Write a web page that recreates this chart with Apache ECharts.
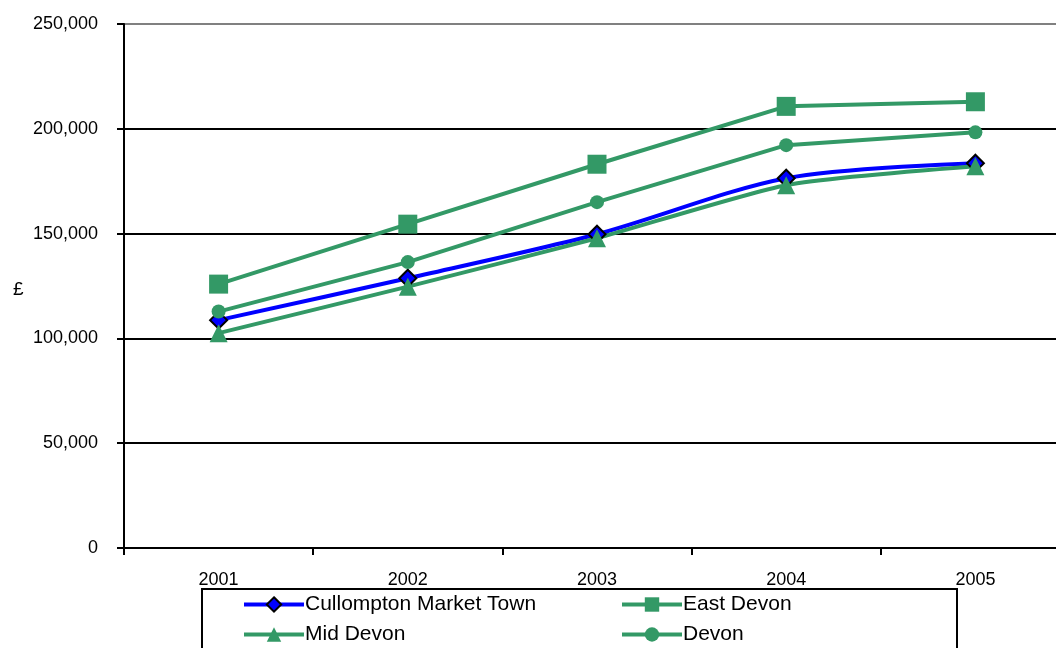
<!DOCTYPE html>
<html>
<head>
<meta charset="utf-8">
<script src="https://cdn.jsdelivr.net/npm/echarts@6/dist/echarts.min.js"></script>
<style>html,body{margin:0;padding:0;background:#fff;overflow:hidden;width:1056px;height:648px;}#c{width:1090px;height:648px;}</style>
</head>
<body>
<div id="c"></div>
<script>
const years = ['2001', '2002', '2003', '2004', '2005'];
const cullompton = [108700, 128700, 149700, 176400, 183600];
const eastDevon = [125900, 154500, 183100, 210700, 212900];
const midDevon = [102500, 124700, 147800, 173100, 182100];
const devon = [112800, 136400, 165000, 192200, 198300];
const yTicks = [0, 50000, 100000, 150000, 200000, 250000];

const GREEN = '#339966';
const FONT = 'Liberation Sans, Arial, sans-serif';

const legendCommon = {
  orient: 'vertical', top: 594, height: 60, padding: 0, itemWidth: 60, itemHeight: 18, itemGap: 9,
  textStyle: {color: '#000', fontSize: 21, fontFamily: FONT, padding: [0, 0, 0, -4]},
  lineStyle: {width: 4}
};

const chart = echarts.init(document.getElementById('c'), null, {renderer: 'canvas'});
chart.setOption({
  animation: false,
  backgroundColor: '#ffffff',
  grid: {left: 124, top: 24, width: 946, height: 524, show: true, borderColor: '#808080', borderWidth: 1, backgroundColor: 'transparent'},
  xAxis: {
    type: 'category', data: years, boundaryGap: true,
    axisLine: {lineStyle: {color: '#000', width: 2}},
    axisTick: {show: true, length: 7, alignWithLabel: false, lineStyle: {color: '#000', width: 2}},
    axisLabel: {color: '#000', fontSize: 18, fontFamily: FONT, margin: 23}
  },
  yAxis: {
    type: 'value', min: yTicks[0], max: yTicks[yTicks.length - 1], interval: 50000,
    axisLine: {show: true, lineStyle: {color: '#000', width: 2}},
    axisTick: {show: true, length: 7, lineStyle: {color: '#000', width: 2}},
    axisLabel: {color: '#000', fontSize: 18, fontFamily: FONT, margin: 26,
      formatter: v => v.toString().replace(/\B(?=(\d{3})+(?!\d))/g, ',')},
    splitLine: {show: true, lineStyle: {color: ['#000','#000','#000','#000','#000','#808080'], width: 2}}
  },
  legend: [
    Object.assign({}, legendCommon, {left: 242, data: ['Cullompton Market Town', 'Mid Devon']}),
    Object.assign({}, legendCommon, {left: 620, data: ['East Devon', 'Devon']})
  ],
  graphic: [
    {type: 'rect', shape: {x: 202, y: 589, width: 755, height: 80}, style: {fill: 'none', stroke: '#000', lineWidth: 2}, z: 0},
    {type: 'text', left: 13, top: 280, style: {text: '£', fontSize: 19, fontFamily: FONT, fill: '#000'}}
  ],
  series: [
    {name: 'Cullompton Market Town', type: 'line', data: cullompton, smooth: 0.3,
     symbol: 'diamond', symbolSize: 17,
     lineStyle: {color: '#0000ff', width: 4},
     itemStyle: {color: '#0000ff', borderColor: '#000', borderWidth: 2}},
    {name: 'East Devon', type: 'line', data: eastDevon,
     symbol: 'rect', symbolSize: 19,
     lineStyle: {color: GREEN, width: 4},
     itemStyle: {color: GREEN, borderColor: GREEN, borderWidth: 0}},
    {name: 'Mid Devon', type: 'line', data: midDevon, smooth: 0.2,
     symbol: 'triangle', symbolSize: 18,
     lineStyle: {color: GREEN, width: 4},
     itemStyle: {color: GREEN, borderWidth: 0}},
    {name: 'Devon', type: 'line', data: devon,
     symbol: 'circle', symbolSize: 14,
     lineStyle: {color: GREEN, width: 4},
     itemStyle: {color: GREEN, borderWidth: 0}}
  ]
});
</script>
</body>
</html>
